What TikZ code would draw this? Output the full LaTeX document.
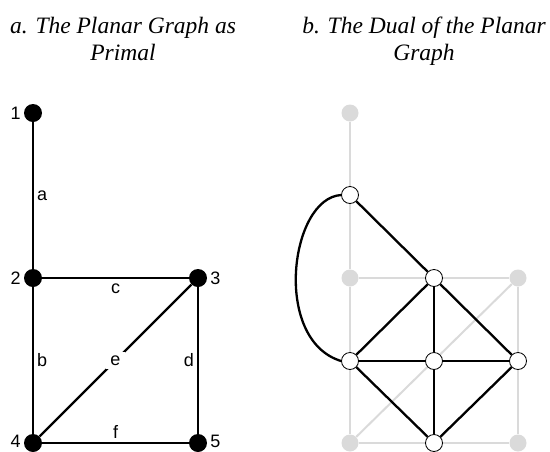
\documentclass[tikz,border=0pt]{standalone}
\usepackage{fontspec}
\setmainfont{Liberation Serif}
\setsansfont{Liberation Sans}
\usetikzlibrary{positioning}
\definecolor{primalgrey}{RGB}{218,218,218}

\begin{document}
\begin{tikzpicture}[x=1pt,y=-1pt,
  vert/.style={circle,fill=black,inner sep=0pt,minimum size=18pt},
  ghost/.style={circle,fill=primalgrey,inner sep=0pt,minimum size=17pt},
  dualv/.style={circle,draw=black,line width=0.8pt,fill=white,inner sep=0pt,minimum size=17pt},
  edge/.style={line width=2.3pt},
  gedge/.style={primalgrey,line width=2pt},
  elab/.style={font=\sffamily\fontsize{18}{18}\selectfont,inner sep=3pt},
  title/.style={font=\itshape\fontsize{23.5}{27}\selectfont,anchor=base,inner sep=0pt}]
  \useasboundingbox (0,0) rectangle (550,451);

  % titles
  \node[title] (ta1) at (123,33) {a. The Planar Graph as};
  \node[title] (ta2) at (123,60) {Primal};
  \node[title] (tb1) at (424,33) {b. The Dual of the Planar};
  \node[title] (tb2) at (424,60) {Graph};

  % primal graph
  \node[vert,label={[elab]left:1}] (p1) at (33,113) {};
  \node[vert,label={[elab]left:2}] (p2) at (33,278) {};
  \node[vert,label={[elab]right:3}] (p3) at (198,278) {};
  \node[vert,label={[elab,yshift=2pt]left:4}] (p4) at (33,443) {};
  \node[vert,label={[elab,yshift=2pt]right:5}] (p5) at (198,443) {};
  \draw[edge] (p1) -- node[elab,right] {a} (p2);
  \draw[edge] (p2) -- node[elab,below,inner sep=5pt] {c} (p3);
  \draw[edge] (p2) -- node[elab,right] {b} (p4);
  \draw[edge] (p3) -- node[elab,left] {d} (p5);
  \draw[edge] (p4) -- node[elab,above] {f} (p5);
  \draw[edge] (p4) -- node[elab,fill=white,inner sep=4pt] {e} (p3);

  % primal in grey under the dual
  \node[ghost] (g1) at (350,113) {};
  \node[ghost] (g2) at (350,278) {};
  \node[ghost] (g3) at (518,278) {};
  \node[ghost] (g4) at (350,443) {};
  \node[ghost] (g5) at (518,443) {};
  \draw[gedge] (g1) -- (g2);
  \draw[gedge] (g2) -- (g3);
  \draw[gedge] (g2) -- (g4);
  \draw[gedge] (g3) -- (g5);
  \draw[gedge] (g4) -- (g5);
  \draw[gedge] (g4) -- (g3);

  % dual graph
  \node[dualv] (dA) at (350,195) {};
  \node[dualv] (dB) at (434,278) {};
  \node[dualv] (dC) at (350,361) {};
  \node[dualv] (dD) at (434,361) {};
  \node[dualv] (dE) at (518,361) {};
  \node[dualv] (dF) at (434,443) {};
  \draw[edge] (dA.west) .. controls (290,198) and (272,340) .. (dC.west);
  \draw[edge] (dA) -- (dB);
  \foreach \u/\v in {dB/dC,dB/dD,dB/dE,dC/dD,dD/dE,dC/dF,dD/dF,dE/dF}
    \draw[edge] (\u) -- (\v);
\end{tikzpicture}
\end{document}
